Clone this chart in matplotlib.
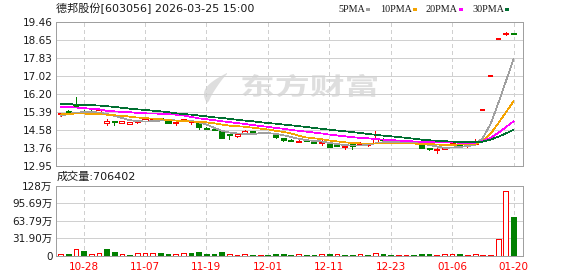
import matplotlib
matplotlib.use("Agg")
import matplotlib.pyplot as plt
from matplotlib.patches import Rectangle, PathPatch, Polygon
from matplotlib.textpath import TextPath
from matplotlib.font_manager import FontProperties
from matplotlib.transforms import Affine2D
import numpy as np

# daily K data
title = "德邦股份[603056] 2026-03-25 15:00"
tick_labels = ['10-28', '11-07', '11-19', '12-01', '12-11', '12-23', '01-06', '01-20']
price_labels = ['12.95', '13.76', '14.58', '15.39', '16.20', '17.02', '17.83', '18.65', '19.46']
vol_labels = ['0', '31.90万', '63.79万', '95.69万', '128万']
price_range = (12.95, 19.46)
vol_max = 127.59  # 万

prev_close = 15.25
opens = [15.29, 15.40, 15.74, 15.43, 15.41, 15.37, 14.88, 14.96, 14.88, 14.84,
         14.90, 14.97, 15.03, 15.10, 14.94, 14.88, 14.97, 14.92, 14.93, 14.66,
         14.61, 14.52, 14.38, 14.27, 14.42, 14.50, 14.44, 14.45, 14.40, 14.18,
         14.12, 14.03, 14.12, 14.05, 13.96, 13.97, 13.88, 13.77, 13.92, 13.90,
         13.86, 13.97, 14.12, 14.08, 13.98, 14.00, 14.02, 13.89, 13.74, 13.66,
         13.71, 13.89, 13.95, 13.82, 13.94, 15.44, 16.99, 18.69, 18.88, 18.92]
closes = [15.33, 15.32, 15.61, 15.38, 15.40, 15.46, 14.96, 14.93, 14.94, 14.91,
          14.99, 15.05, 15.08, 15.03, 14.87, 14.90, 15.03, 14.94, 14.67, 14.62,
          14.57, 14.21, 14.34, 14.37, 14.50, 14.45, 14.46, 14.43, 14.22, 14.12,
          14.07, 14.08, 14.07, 13.97, 13.99, 13.79, 13.85, 13.82, 13.81, 13.98,
          13.93, 14.17, 14.09, 14.02, 14.03, 14.04, 13.97, 13.76, 13.68, 13.69,
          13.74, 13.97, 13.86, 13.88, 14.04, 15.44, 16.99, 18.69, 18.92, 18.90]
highs = [15.34, 15.45, 16.04, 15.45, 15.44, 15.48, 15.06, 14.96, 14.95, 14.92,
         15.00, 15.08, 15.10, 15.12, 14.95, 14.98, 15.06, 14.97, 14.94, 14.70,
         14.62, 14.53, 14.38, 14.38, 14.57, 14.51, 14.48, 14.47, 14.41, 14.19,
         14.14, 14.15, 14.13, 14.06, 14.12, 13.98, 13.89, 13.83, 13.93, 14.02,
         13.94, 14.50, 14.20, 14.10, 14.05, 14.06, 14.04, 13.90, 13.75, 13.74,
         13.80, 13.98, 13.96, 13.89, 14.17, 15.44, 16.99, 18.69, 18.98, 18.93]
lows = [15.19, 15.31, 15.58, 15.36, 15.38, 15.36, 14.79, 14.76, 14.86, 14.83,
        14.85, 14.95, 15.00, 15.01, 14.85, 14.80, 14.96, 14.82, 14.62, 14.60,
        14.55, 14.20, 14.17, 14.26, 14.38, 14.43, 14.42, 14.41, 14.20, 14.08,
        14.05, 13.99, 14.05, 13.96, 13.86, 13.78, 13.83, 13.68, 13.69, 13.88,
        13.85, 13.95, 14.08, 14.00, 13.96, 13.98, 13.95, 13.74, 13.66, 13.51,
        13.70, 13.86, 13.85, 13.80, 13.92, 15.44, 16.99, 18.69, 18.86, 18.88]
volumes = [3.8, 3.8, 13.0, 9.5, 3.8, 5.5, 13.5, 8.0, 3.8, 2.0,
           5.5, 5.5, 5.5, 5.5, 3.8, 3.8, 5.5, 5.5, 7.5, 3.8,
           3.8, 7.5, 3.8, 2.0, 3.8, 2.0, 1.6, 2.0, 3.8, 3.8,
           2.0, 3.8, 2.0, 2.0, 3.8, 3.8, 3.8, 2.0, 2.0, 3.8,
           2.0, 5.5, 3.8, 2.0, 2.0, 2.0, 2.0, 3.8, 3.8, 2.0,
           3.8, 3.8, 3.8, 2.0, 3.8, 1.6, 1.6, 31.0, 118.5, 70.6402]

ma5 = [15.20, 15.28, 15.34, 15.36, 15.36, 15.35, 15.28, 15.20, 15.10, 15.00,
       14.96, 14.94, 14.95, 14.98, 15.00, 14.99, 14.98, 14.97, 14.90, 14.80,
       14.66, 14.52, 14.44, 14.40, 14.38, 14.37, 14.41, 14.42, 14.38, 14.32,
       14.24, 14.16, 14.10, 14.06, 14.04, 13.97, 13.92, 13.87, 13.85, 13.85,
       13.89, 13.95, 14.00, 14.02, 14.02, 14.02, 14.00, 13.94, 13.88, 13.81,
       13.75, 13.76, 13.79, 13.83, 13.88, 14.20, 14.82, 15.75, 16.75, 17.77]
ma10 = [15.26, 15.28, 15.30, 15.30, 15.28, 15.27, 15.25, 15.22, 15.20, 15.16,
        15.12, 15.09, 15.07, 15.05, 15.00, 14.98, 14.96, 14.94, 14.92, 14.90,
        14.86, 14.80, 14.75, 14.73, 14.70, 14.66, 14.62, 14.58, 14.52, 14.47,
        14.40, 14.30, 14.22, 14.18, 14.14, 14.08, 14.04, 14.00, 13.97, 13.95,
        13.94, 13.94, 13.94, 13.94, 13.94, 13.94, 13.94, 13.93, 13.92, 13.90,
        13.88, 13.88, 13.90, 13.91, 13.92, 14.07, 14.38, 14.85, 15.35, 15.85]
ma20 = [15.60, 15.60, 15.57, 15.55, 15.51, 15.49, 15.42, 15.40, 15.37, 15.36,
        15.33, 15.31, 15.30, 15.29, 15.27, 15.25, 15.21, 15.15, 15.08, 15.04,
        15.00, 14.95, 14.91, 14.87, 14.83, 14.78, 14.74, 14.70, 14.65, 14.61,
        14.56, 14.52, 14.48, 14.44, 14.40, 14.35, 14.31, 14.27, 14.23, 14.20,
        14.18, 14.15, 14.12, 14.10, 14.08, 14.06, 14.04, 14.02, 14.01, 14.00,
        13.99, 13.99, 13.98, 13.98, 13.98, 14.05, 14.20, 14.42, 14.68, 14.95]
ma30 = [15.72, 15.72, 15.71, 15.69, 15.68, 15.66, 15.63, 15.60, 15.56, 15.52,
        15.49, 15.46, 15.43, 15.40, 15.36, 15.31, 15.28, 15.25, 15.21, 15.17,
        15.13, 15.10, 15.06, 15.02, 14.98, 14.95, 14.91, 14.87, 14.84, 14.80,
        14.77, 14.73, 14.69, 14.65, 14.61, 14.57, 14.53, 14.50, 14.46, 14.42,
        14.38, 14.34, 14.30, 14.27, 14.24, 14.20, 14.16, 14.12, 14.09, 14.07,
        14.05, 14.03, 14.02, 14.01, 14.00, 14.03, 14.12, 14.25, 14.40, 14.56]

RED = '#ff0000'
GREEN = '#008000'
GRIDC = '#d0d0d0'
FRAME = '#a0a0a0'
WMARK = '#dedede'
MA_COLORS = ['#a0a0a0', '#f4a300', '#ff00ff', '#006f31']
PX = 0.72  # one pixel in points
LW = 0.5   # thin aliased strokes -> 1 px
W, H = 578, 276

fig = plt.figure(figsize=(W / 100, H / 100), dpi=100)


def box(l, t, r, b):
    return [l / W, 1 - b / H, (r - l) / W, (b - t) / H]


ax = fig.add_axes(box(56, 21.5, 522.5, 165.5))
axv = fig.add_axes(box(56, 185.5, 522.5, 256))

o = np.array(opens)
c = np.array(closes)
hi = np.array(highs)
lo = np.array(lows)
vol = np.array(volumes)
x = np.arange(len(c))
xlim = (-0.59, len(c) - 1 + 1.17)

# watermark: swoosh + 东方财富 (pixel coords, y measured from bottom)
wm_path = TextPath((0, 0), "东方财富", size=1,
                   prop=FontProperties(family='Noto Sans CJK SC', weight='bold'))
bb = wm_path.get_extents()
wm_tr = Affine2D().translate(-bb.x0, -bb.y0).scale(135 / bb.width, 23 / bb.height).translate(242, H - 97)
ax.add_patch(PathPatch(wm_path, transform=wm_tr, facecolor=WMARK, lw=0, zorder=0.2))
t = np.linspace(0, 1, 30)
outer = np.c_[207 - 6 * np.sin(np.pi * t) + 20 * t ** 2, (H - 103) + 30 * t]
inner = np.c_[209 + 3 * np.sin(np.pi * t[::-1]) + 18 * t[::-1] ** 2, (H - 101) + 27 * t[::-1]]
ax.add_patch(Polygon(np.r_[outer, inner], closed=True, transform=Affine2D(),
                     facecolor=WMARK, lw=0, zorder=0.2))

# candles
bw = 0.66
for i in x:
    up = c[i] >= o[i]
    col = RED if up else GREEN
    ax.vlines(i, lo[i], hi[i], color=col, lw=LW, antialiased=False, zorder=3)
    if o[i] == c[i]:
        ax.hlines(o[i], i - bw / 2, i + bw / 2, color=col, lw=1.4, antialiased=False, zorder=4)
    else:
        ax.add_patch(Rectangle((i - bw / 2, min(o[i], c[i])), bw, abs(c[i] - o[i]),
                               facecolor='white' if up else col, edgecolor=col,
                               lw=0.6, antialiased=False, zorder=4))

for ma, colr in zip([ma5, ma10, ma20, ma30], MA_COLORS):
    ax.plot(x, ma, color=colr, lw=LW, antialiased=False, zorder=5)

# volume
prev = np.r_[prev_close, c[:-1]]
vol_up = c >= prev
axv.bar(x, vol, width=0.62, color=np.where(vol_up, 'white', GREEN),
        edgecolor=np.where(vol_up, RED, GREEN), lw=0.6, antialiased=False, zorder=3)

tick_pos = np.arange(3, len(c), 8)
for a in (ax, axv):
    a.set_xlim(*xlim)
    a.set_axisbelow(True)
    a.set_xticks(tick_pos)
    a.grid(axis='x', color=GRIDC, lw=LW, ls=(0, (5, 5)), antialiased=False)
    a.grid(axis='y', color=GRIDC, lw=LW, ls='-', antialiased=False)
    a.tick_params(length=0, labelsize=7.5, labelcolor='#1a1a1a', pad=2.5)
    for s in a.spines.values():
        s.set_color(FRAME)
        s.set_linewidth(PX)

ax.set_ylim(*price_range)
ax.set_yticks(np.linspace(price_range[0], price_range[1], len(price_labels)))
ax.set_yticklabels(price_labels)
ax.set_xticklabels([])

axv.set_ylim(0, vol_max)
axv.set_yticks(np.linspace(0, vol_max, len(vol_labels)))
axv.set_yticklabels(vol_labels, family=['DejaVu Sans', 'Noto Sans CJK SC'])
axv.set_xticklabels(tick_labels, color=RED)
axv.tick_params(axis='x', pad=4)

txt_fam = ['DejaVu Sans', 'Noto Sans CJK SC']
fig.text(56 / W, 1 - 8 / H, title, family=txt_fam, size=8, va='center', color='#1a1a1a')
fig.text(57 / W, 1 - 177 / H, f"成交量:{vol[-1] * 1e4:.0f}", family=txt_fam, size=8,
         va='center', color='#1a1a1a')

# MA legend
for name, colr, tx, sx in zip(['5PMA', '10PMA', '20PMA', '30PMA'], MA_COLORS,
                              [338, 380, 425, 472], [366, 413, 459, 505]):
    fig.text(tx / W, 1 - 9 / H, name, family='Liberation Serif', size=7.3,
             va='center', color='#1a1a1a')
    fig.add_artist(Rectangle((sx / W, 1 - 10.5 / H), 4 / W, 2.5 / H, color=colr,
                             transform=fig.transFigure, lw=0))

fig.savefig('out.png', dpi=100)
